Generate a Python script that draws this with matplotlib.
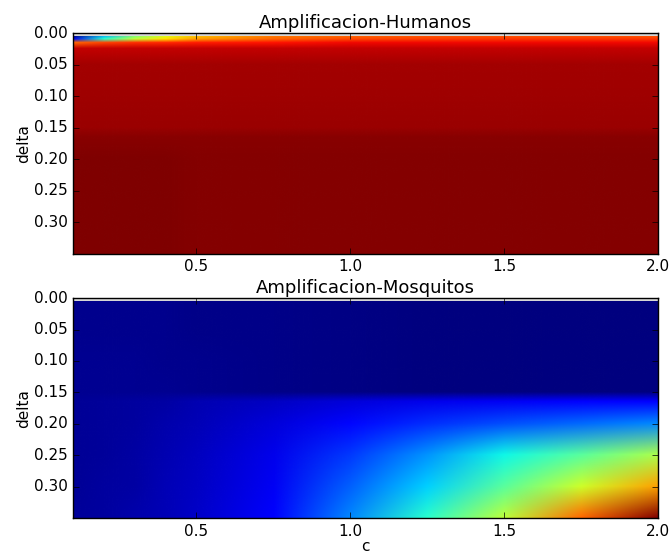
import numpy as np
import matplotlib
matplotlib.use("Agg")
import matplotlib.pyplot as plt
from matplotlib.image import NonUniformImage
from matplotlib.patches import Rectangle
from matplotlib.colors import Normalize

# Grid of the parameter sweep
c_vals = [0.1, 0.2, 0.3, 0.4, 0.5, 0.75, 1.0, 1.25, 1.5, 1.75, 2.0]
delta_vals = [0.005, 0.01, 0.016, 0.025, 0.05, 0.1, 0.15, 0.165,
              0.2, 0.25, 0.3, 0.35]

# Normalised amplification in humans (rows follow delta_vals, columns c_vals)
amp_humanos = [
    [0.0, 0.30, 0.50, 0.62, 0.70, 0.78, 0.80, 0.82, 0.82, 0.82, 0.82],
    [0.10, 0.40, 0.58, 0.67, 0.74, 0.80, 0.83, 0.84, 0.85, 0.85, 0.85],
    [0.80, 0.84, 0.86, 0.87, 0.88, 0.89, 0.90, 0.90, 0.90, 0.90, 0.90],
    [0.94, 0.94, 0.94, 0.94, 0.94, 0.94, 0.94, 0.94, 0.94, 0.94, 0.94],
    [0.965, 0.965, 0.965, 0.965, 0.965, 0.965, 0.965, 0.965, 0.965, 0.965, 0.965],
    [0.972, 0.972, 0.972, 0.972, 0.972, 0.972, 0.972, 0.972, 0.972, 0.972, 0.972],
    [0.976, 0.976, 0.976, 0.976, 0.976, 0.976, 0.976, 0.976, 0.976, 0.976, 0.976],
    [0.99, 0.99, 0.99, 0.99, 0.99, 0.99, 0.99, 0.99, 0.99, 0.99, 0.99],
    [1.0, 0.999, 0.998, 0.997, 0.996, 0.995, 0.995, 0.995, 0.995, 0.995, 0.995],
    [1.0, 0.999, 0.998, 0.997, 0.996, 0.995, 0.995, 0.995, 0.995, 0.995, 0.995],
    [1.0, 0.999, 0.998, 0.997, 0.996, 0.995, 0.995, 0.995, 0.995, 0.995, 0.995],
    [1.0, 0.999, 0.998, 0.997, 0.996, 0.995, 0.995, 0.995, 0.995, 0.995, 0.995],
]

# Normalised amplification in mosquitoes
amp_mosquitos = [
    [0.015, 0.015, 0.015, 0.012, 0.010, 0.008, 0.005, 0.003, 0.0, 0.0, 0.0],
    [0.015, 0.015, 0.015, 0.012, 0.010, 0.008, 0.005, 0.003, 0.0, 0.0, 0.0],
    [0.015, 0.015, 0.015, 0.012, 0.010, 0.008, 0.005, 0.003, 0.0, 0.0, 0.0],
    [0.015, 0.015, 0.015, 0.012, 0.010, 0.008, 0.005, 0.003, 0.0, 0.0, 0.0],
    [0.015, 0.015, 0.015, 0.012, 0.010, 0.008, 0.005, 0.003, 0.0, 0.0, 0.0],
    [0.016, 0.016, 0.016, 0.014, 0.012, 0.009, 0.006, 0.003, 0.0, 0.0, 0.0],
    [0.018, 0.018, 0.018, 0.016, 0.014, 0.010, 0.006, 0.003, 0.0, 0.0, 0.0],
    [0.02, 0.025, 0.03, 0.035, 0.045, 0.06, 0.08, 0.095, 0.105, 0.115, 0.125],
    [0.02, 0.025, 0.03, 0.04, 0.05, 0.08, 0.13, 0.17, 0.20, 0.23, 0.26],
    [0.02, 0.025, 0.035, 0.045, 0.055, 0.095, 0.18, 0.27, 0.37, 0.46, 0.56],
    [0.02, 0.03, 0.035, 0.05, 0.06, 0.105, 0.22, 0.33, 0.46, 0.60, 0.74],
    [0.025, 0.03, 0.04, 0.05, 0.065, 0.115, 0.26, 0.40, 0.58, 0.80, 1.0],
]

yticks = [0.00, 0.05, 0.10, 0.15, 0.20, 0.25, 0.30]
xticks = [0.5, 1.0, 1.5, 2.0]

plt.style.use("classic")
plt.rcParams["font.family"] = ["DejaVu Sans"]
plt.rcParams["font.size"] = 11

fig = plt.figure(figsize=(6.7, 5.53), dpi=100, facecolor="white")
ax_top = fig.add_axes([0.109, 0.541, 0.873, 0.399])
ax_bot = fig.add_axes([0.109, 0.063, 0.873, 0.398])

panels = [(ax_top, amp_humanos, "Amplificacion-Humanos"),
          (ax_bot, amp_mosquitos, "Amplificacion-Mosquitos")]

x = np.array(c_vals)
y = np.array(delta_vals)

for ax, values, title in panels:
    ax.set_facecolor("#d6d6d6")
    im = NonUniformImage(ax, interpolation="bilinear", cmap="jet",
                         norm=Normalize(vmin=0.0, vmax=1.0),
                         extent=(x[0], x[-1], y[-1], y[0]))
    im.set_data(x, y, np.array(values))
    ax.add_image(im)
    # keep the image inside the sampled region of the sweep
    im.set_clip_path(Rectangle((x[0], y[0]), x[-1] - x[0], y[-1] - y[0],
                               transform=ax.transData))
    ax.set_xlim(x[0], x[-1])
    ax.set_ylim(y[-1], 0.0)
    ax.set_xticks(xticks)
    ax.set_yticks(yticks)
    ax.set_yticklabels([f"{v:.2f}" for v in yticks])
    ax.set_xticklabels([f"{v:.1f}" for v in xticks])
    ax.tick_params(labelsize=11)
    ax.set_title(title, fontsize=13, pad=4)
    ax.set_ylabel("delta", fontsize=11, labelpad=2)

ax_bot.set_xlabel("c", fontsize=11, labelpad=0)

fig.savefig("out.png", dpi=100, facecolor="white")
